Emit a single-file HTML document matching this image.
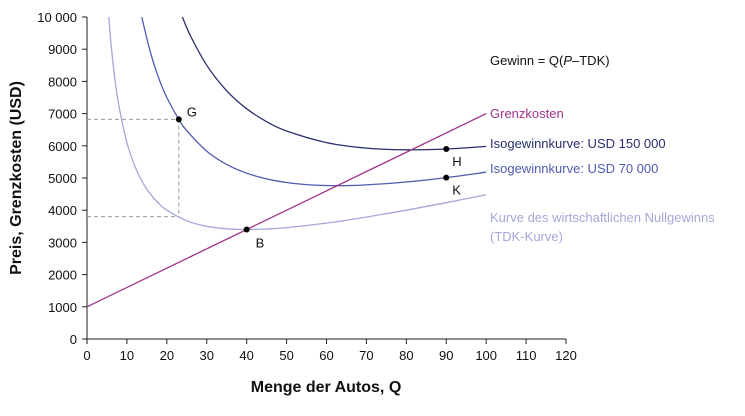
<!DOCTYPE html>
<html><head><meta charset="utf-8"><style>
body{margin:0;background:#fff}
svg text{font-family:"Liberation Sans",sans-serif;fill:#111}
</style></head><body>
<svg id="chart" width="745" height="411" viewBox="0 0 745 411" xmlns="http://www.w3.org/2000/svg">
<defs><clipPath id="plotclip"><rect x="87" y="17" width="480" height="322"/></clipPath></defs>
<g id="axes"></g>
<g id="marks" clip-path="url(#plotclip)"></g>
<g id="overlay"></g>
<text transform="translate(21,178) rotate(-90)" text-anchor="middle" font-size="16" font-weight="bold">Preis, Grenzkosten (USD)</text>
<text x="326" y="392" text-anchor="middle" font-size="16" font-weight="bold">Menge der Autos, Q</text>
<text x="490" y="65" font-size="13">Gewinn = Q(<tspan font-style="italic">P</tspan>–TDK)</text>
<text x="490" y="118" font-size="13" style="fill:#a0338a">Grenzkosten</text>
<text x="490" y="148" font-size="13" style="fill:#2a2f6e">Isogewinnkurve: USD 150 000</text>
<text x="490" y="173" font-size="13" style="fill:#4f5bb0">Isogewinnkurve: USD 70 000</text>
<text x="490" y="222" font-size="13" style="fill:#a3a8d8">Kurve des wirtschaftlichen Nullgewinns</text>
<text x="490" y="241" font-size="13" style="fill:#a3a8d8">(TDK-Kurve)</text>
</svg>
<script>
const xTicks=[0,10,20,30,40,50,60,70,80,90,100,110,120];
const yTicks=[0,1000,2000,3000,4000,5000,6000,7000,8000,9000,10000];
const yTickLabels=["0","1000","2000","3000","4000","5000","6000","7000","8000","9000","10 000"];
const tdkQ=[5,6,7,8,10,12,14,16,18,20,25,30,35,40,45,50,60,70,80,90,100];
const tdkP=[10750,9180,8067,7240,6100,5360,4849,4480,4207,4000,3670,3500,3421,3400,3417,3460,3600,3786,4000,4233,4480];
const iso70Q=[10,12,13,14,16,18,20,23,25,30,35,40,45,50,55,60,65,70,80,90,100];
const iso70P=[13100,11193,10467,9849,8855,8096,7500,6820,6470,5833,5421,5150,4972,4860,4795,4767,4765,4786,4875,5011,5180];
const iso150Q=[18,20,22,24,26,30,35,40,45,50,60,70,80,90,100];
const iso150P=[12540,11500,10660,9970,9395,8500,7707,7150,6750,6460,6100,5929,5875,5900,5980];
const mcQ=[0,100];
const mcP=[1000,7000];
const ptNames=["G","H","K","B"];
const ptQ=[23,90,90,40];
const ptP=[6820,5900,5011,3400];
const NS="http://www.w3.org/2000/svg";
const X=q=>87+q*(479/120);
const Y=p=>339-p*(322/10000);
function mk(tag,attrs,parent){const e=document.createElementNS(NS,tag);for(const k in attrs)e.setAttribute(k,attrs[k]);parent.appendChild(e);return e;}
const axes=document.getElementById('axes'),marks=document.getElementById('marks'),ov=document.getElementById('overlay');
let a=mk('line',{x1:87,y1:339,x2:566,y2:339,stroke:'#222','stroke-width':1},axes);

a=mk('line',{x1:87,y1:17,x2:87,y2:339,stroke:'#222','stroke-width':1},axes);

xTicks.forEach(v=>{const t=mk('line',{x1:X(v),y1:339,x2:X(v),y2:344,stroke:'#222'},axes);

const l=mk('text',{x:X(v),y:360,'text-anchor':'middle','font-size':13},axes);l.textContent=v;
});
yTicks.forEach((v,i)=>{const t=mk('line',{x1:82,y1:Y(v),x2:87,y2:Y(v),stroke:'#222'},axes);

const l=mk('text',{x:77,y:Y(v)+5,'text-anchor':'end','font-size':13},axes);l.textContent=yTickLabels[i];
});
function smoothPath(qs,ps){const P=qs.map((q,i)=>[X(q),Y(ps[i])]);let d='M'+P[0][0].toFixed(1)+','+P[0][1].toFixed(1);
for(let i=0;i<P.length-1;i++){const p0=P[Math.max(i-1,0)],p1=P[i],p2=P[i+1],p3=P[Math.min(i+2,P.length-1)];
const c1=[p1[0]+(p2[0]-p0[0])/6,p1[1]+(p2[1]-p0[1])/6],c2=[p2[0]-(p3[0]-p1[0])/6,p2[1]-(p3[1]-p1[1])/6];
d+='C'+c1.map(v=>v.toFixed(1)).join(',')+' '+c2.map(v=>v.toFixed(1)).join(',')+' '+p2[0].toFixed(1)+','+p2[1].toFixed(1);}
return d;}
function line(qs,ps,color,name){const p=mk('path',{d:smoothPath(qs,ps),fill:'none',stroke:color,'stroke-width':1.3},marks);
}
const G=0;
const tdkAtG=tdkP[9]+(tdkP[10]-tdkP[9])*(ptQ[G]-20)/5;
let dl=mk('path',{d:`M87,${Y(ptP[G])}H${X(ptQ[G])}V${Y(tdkAtG)}`,fill:'none',stroke:'#999','stroke-dasharray':'4,3'},marks);

let dl2=mk('path',{d:`M87,${Y(tdkAtG)}H${X(ptQ[G])}`,fill:'none',stroke:'#999','stroke-dasharray':'4,3'},marks);

line(tdkQ,tdkP,'#a3a8d8','tdk-curve');
line(iso70Q,iso70P,'#4f5bb0','isoprofit-70000');
line(iso150Q,iso150P,'#2a2f6e','isoprofit-150000');
line(mcQ,mcP,'#a0338a','marginal-cost-line');
const off=[[8,-3],[6,17],[6,17],[9,18]];
ptNames.forEach((n,i)=>{const c=mk('circle',{cx:X(ptQ[i]),cy:Y(ptP[i]),r:3,fill:'#000'},ov);

const t=mk('text',{x:X(ptQ[i])+off[i][0],y:Y(ptP[i])+off[i][1],'font-size':13},ov);t.textContent=n;
});
</script>
</body></html>
